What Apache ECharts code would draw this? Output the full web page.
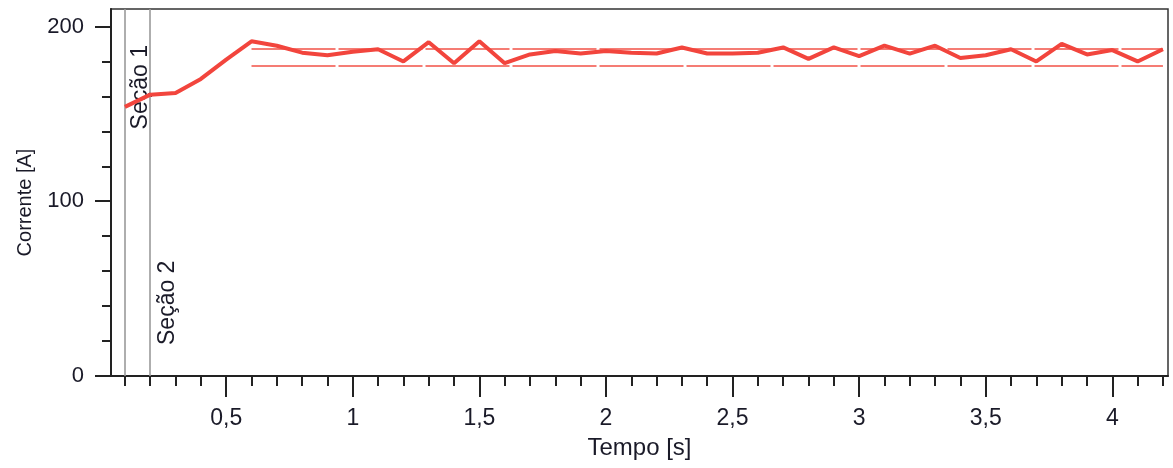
<!DOCTYPE html>
<html>
<head>
<meta charset="utf-8">
<script src="https://cdn.jsdelivr.net/npm/echarts@6/dist/echarts.min.js"></script>
<style>
html,body{margin:0;padding:0;background:#fff;}
#chart{width:1173px;height:468px;}
</style>
</head>
<body>
<div id="chart"></div>
<script>
// Data
const tempo = [0.1,0.2,0.3,0.4,0.5,0.6,0.7,0.8,0.9,1.0,1.1,1.2,1.3,1.4,1.5,1.6,1.7,1.8,1.9,2.0,2.1,2.2,2.3,2.4,2.5,2.6,2.7,2.8,2.9,3.0,3.1,3.2,3.3,3.4,3.5,3.6,3.7,3.8,3.9,4.0,4.1,4.2];
const corrente = [154,161,162,170,181,191.5,189,185,183.5,185.5,187,180,191,179,191.5,179,184,186,184.5,186,185,184.5,188,184.5,184.5,185,188,181.5,188,183,189,184.5,189,182,183.5,187,180,190,184,186.5,180,187];
const secoes = [{x:0.1, nome:'Seção 1'}, {x:0.2, nome:'Seção 2'}];
const limites = [187.2, 177.8];
const limiteInicio = 0.6, limiteFim = 4.2;
const xMajorTicks = [0.5,1,1.5,2,2.5,3,3.5,4];
const xMinorTicks = [0.1,0.2,0.3,0.4,0.5,0.6,0.7,0.8,0.9,1.0,1.1,1.2,1.3,1.4,1.5,1.6,1.7,1.8,1.9,2.0,2.1,2.2,2.3,2.4,2.5,2.6,2.7,2.8,2.9,3.0,3.1,3.2,3.3,3.4,3.5,3.6,3.7,3.8,3.9,4.0,4.1,4.2];
const yMajorTicks = [0,100,200];
const yMinorTicks = [0,20,40,60,80,100,120,140,160,180,200];

const FONT = 'Liberation Sans, Arial, sans-serif';
const TXT = '#1a1a28';
const chart = echarts.init(document.getElementById('chart'));

const xBase = {type:'value', min:0.045, max:4.22, gridIndex:0, position:'bottom', splitLine:{show:false}};
const yBase = {type:'value', min:0, max:210, gridIndex:0, position:'left', splitLine:{show:false}};

chart.setOption({
  animation:false,
  backgroundColor:'#fff',
  grid:{left:111,right:5,top:9,bottom:92,show:true,borderColor:'#333',borderWidth:1.5,backgroundColor:'transparent'},
  xAxis:[
    Object.assign({}, xBase, {
      name:'Tempo [s]', nameLocation:'middle', nameGap:60,
      nameTextStyle:{fontFamily:FONT,fontSize:24,color:TXT},
      axisLine:{show:true,lineStyle:{color:'#222',width:2}},
      axisTick:{show:true,length:21,customValues:xMajorTicks,lineStyle:{color:'#222',width:2}},
      axisLabel:{show:true,margin:31,customValues:xMajorTicks,fontFamily:FONT,fontSize:23,color:TXT,
        formatter:v=>String(v).replace('.',',')}
    }),
    Object.assign({}, xBase, {
      axisLine:{show:false},
      axisTick:{show:true,length:10,customValues:xMinorTicks,lineStyle:{color:'#222',width:2}},
      axisLabel:{show:false}
    })
  ],
  yAxis:[
    Object.assign({}, yBase, {
      name:'Corrente [A]', nameLocation:'middle', nameGap:76,
      nameTextStyle:{fontFamily:FONT,fontSize:20,color:TXT,padding:[0,20,0,0]},
      axisLine:{show:true,lineStyle:{color:'#222',width:2}},
      axisTick:{show:true,length:16,customValues:yMajorTicks,lineStyle:{color:'#222',width:2}},
      axisLabel:{show:true,margin:27,customValues:yMajorTicks,fontFamily:FONT,fontSize:22,color:TXT}
    }),
    Object.assign({}, yBase, {
      axisLine:{show:false},
      axisTick:{show:true,length:9,customValues:yMinorTicks,lineStyle:{color:'#222',width:2}},
      axisLabel:{show:false}
    })
  ],
  series:[
    {
      type:'line',
      xAxisIndex:0, yAxisIndex:0,
      data:tempo.map((t,i)=>[t,corrente[i]]),
      showSymbol:false, symbol:'none',
      lineStyle:{color:'#f2453d',width:4},
      z:5,
      markLine:{
        silent:true, symbol:'none', animation:false,
        data:[
          [{coord:[limiteInicio,limites[0]]},{coord:[limiteFim,limites[0]]}],
          [{coord:[limiteInicio,limites[1]]},{coord:[limiteFim,limites[1]]}]
        ],
        lineStyle:{color:'rgba(242,80,70,0.75)',width:1.8,type:[84,3]},
        label:{show:false}
      }
    },
    {
      type:'line',
      xAxisIndex:0, yAxisIndex:0,
      data:[],
      markLine:{
        silent:true, symbol:'none', animation:false,
        lineStyle:{color:'#9a9a9a',width:1.6,type:'solid'},
        data:[
          {xAxis:secoes[0].x, label:{show:true,formatter:secoes[0].nome,position:'insideEndBottom',distance:[36,4],
            fontFamily:FONT,fontSize:23,color:TXT}},
          {xAxis:secoes[1].x, label:{show:true,formatter:secoes[1].nome,position:'insideStartBottom',distance:[31,6],
            fontFamily:FONT,fontSize:23,color:TXT}}
        ]
      }
    }
  ]
});
</script>
</body>
</html>
